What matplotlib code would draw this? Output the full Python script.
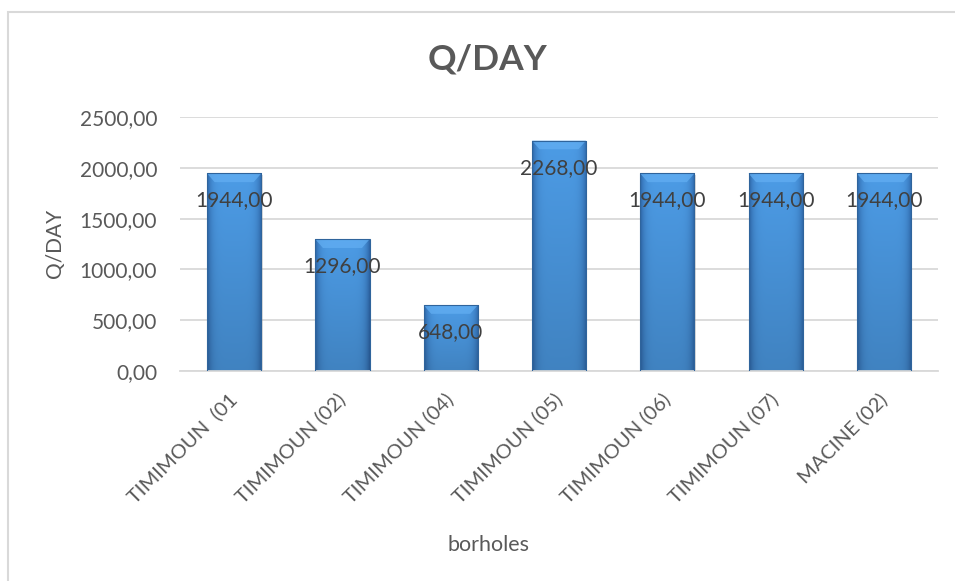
import numpy as np
import matplotlib
matplotlib.use("Agg")
import matplotlib.pyplot as plt
from matplotlib.patches import Rectangle, Polygon

# borehole discharge per day
boreholes = ["TIMIMOUN  (01", "TIMIMOUN (02)", "TIMIMOUN (04)", "TIMIMOUN (05)",
             "TIMIMOUN (06)", "TIMIMOUN (07)", "MACINE (02)"]
q_day = [1944.00, 1296.00, 648.00, 2268.00, 1944.00, 1944.00, 1944.00]
y_ticks = [0, 500, 1000, 1500, 2000, 2500]

plt.rcParams['font.family'] = ['Lato', 'DejaVu Sans']
txt = '#595959'
grid = '#d9d9d9'


def fmt(v):
    return f"{v:.2f}".replace('.', ',')


def shaded_bar(ax, patch):
    # horizontal + vertical shading so the bar looks rounded like an Excel bevel bar
    x0, y0 = patch.get_x(), patch.get_y()
    w, h = patch.get_width(), patch.get_height()
    nx, ny = 80, 200
    u = np.linspace(0, 1, nx)
    v = np.linspace(0, 1, ny)[:, None]
    edge = np.array([0.18, 0.40, 0.66])
    mid = np.array([0.30, 0.61, 0.90])
    prof = np.clip(1 - (np.abs(u - 0.5) * 2) ** 6, 0, 1)[None, :, None]
    img = edge + (mid - edge) * prof
    img = img * (0.84 + 0.16 * v)[:, :, None]
    im = ax.imshow(np.clip(img, 0, 1), extent=(x0, x0 + w, y0, y0 + h),
                   origin='lower', aspect='auto', zorder=2, interpolation='bilinear')
    im.set_clip_path(patch)
    # lighter bevel face on top
    bev_y = 85
    bev_x = 0.07
    top = y0 + h
    ax.add_patch(Polygon([(x0, top), (x0 + w, top), (x0 + w - bev_x, top - bev_y),
                          (x0 + bev_x, top - bev_y)], closed=True,
                         facecolor='#62aef2', edgecolor='none', alpha=0.75, zorder=3))
    # soft shadow and outline
    ax.add_patch(Rectangle((x0 + 0.012, y0), w, h - 10, facecolor='#9a9a9a',
                           edgecolor='none', alpha=0.35, zorder=1.5))
    ax.add_patch(Rectangle((x0, y0), w, h, fill=False, edgecolor='#2f649c',
                           lw=0.8, zorder=3.5))


fig = plt.figure(figsize=(9.55, 5.81), dpi=100)
ax = fig.add_axes([180 / 955, 1 - 371 / 581, (938 - 180) / 955, (371 - 117) / 581])

x = np.arange(len(boreholes))
bars = ax.bar(x, q_day, width=0.5, color='none', edgecolor='none', zorder=2)
for b in bars:
    shaded_bar(ax, b)

for xi, val in zip(x, q_day):
    ax.annotate(fmt(val), (xi, val), xytext=(0, -19.5), textcoords='offset points',
                ha='center', va='center', fontsize=15, color='#404040', zorder=5)

ax.set_xlim(-0.5, len(boreholes) - 0.5)
ax.set_ylim(0, 2500)
ax.set_yticks(y_ticks)
ax.set_yticklabels([fmt(t) for t in y_ticks], fontsize=15, color=txt)
ax.set_xticks(x)
ax.set_xticklabels(boreholes, rotation=45, ha='right', va='center',
                   rotation_mode='anchor', fontsize=14.5, color=txt)
ax.tick_params(axis='both', length=0)
ax.tick_params(axis='x', pad=18)
ax.tick_params(axis='y', pad=16.5)

ax.grid(axis='y', color=grid, lw=1.3, zorder=0)
ax.set_axisbelow(True)
for side in ['top', 'right', 'left']:
    ax.spines[side].set_visible(False)
ax.spines['bottom'].set_color(grid)
ax.spines['bottom'].set_linewidth(1.3)

fig.text(55 / 955, 1 - 243 / 581, 'Q/DAY', rotation=90, ha='center', va='center',
         fontsize=15, color=txt)
fig.text(488 / 955, 1 - 545 / 581, 'borholes', ha='center', va='center',
         fontsize=15.5, color=txt)
fig.text(487 / 955, 1 - 60 / 581, 'Q/DAY', ha='center', va='center',
         fontsize=25.5, fontweight='bold', color=txt)

# chart area frame
fig.patches.append(Rectangle((7.5 / 955, -0.05), 1.2, 1 - 11.5 / 581 + 0.05,
                             transform=fig.transFigure, fill=False,
                             edgecolor=grid, lw=1.5))

fig.savefig('out.png', dpi=100)
